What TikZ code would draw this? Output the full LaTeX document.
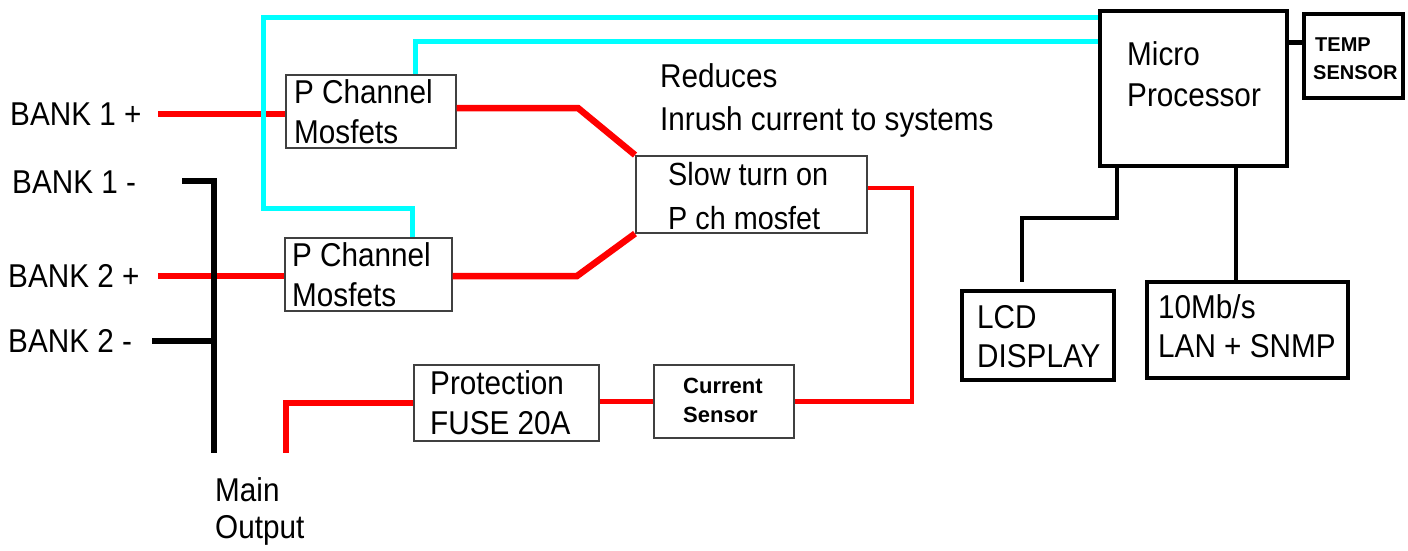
\documentclass[tikz,border=0pt]{standalone}
\usepackage{fontspec}
\setmainfont{Liberation Sans}[FakeStretch=0.9]
\newfontfamily\boldf{Liberation Sans Bold}
\definecolor{wirecyan}{RGB}{0,255,255}
\definecolor{wirered}{RGB}{255,0,0}
\tikzset{
  txt/.style={inner sep=0pt, anchor=base west, font=\fontsize{33}{33}\selectfont},
  slowtxt/.style={inner sep=0pt, anchor=base west, font=\fontsize{32}{32}\selectfont},
  btxt/.style={inner sep=0pt, anchor=base west, font=\boldf\fontsize{22}{22}\selectfont},
  stxt/.style={inner sep=0pt, anchor=base west, font=\boldf\fontsize{20}{20}\selectfont},
  thinbox/.style={draw=black!75, line width=1.6pt, inner sep=0pt, anchor=north west},
  thickbox/.style={draw=black, line width=4pt, inner sep=0pt, anchor=north west},
  redw/.style={draw=wirered, line width=6.5pt, line join=miter},
  redn/.style={draw=wirered, line width=4.5pt, line join=miter},
  cyw/.style={draw=wirecyan, line width=5pt, line join=miter},
  blkw/.style={draw=black, line width=6pt, line join=miter},
  blkn/.style={draw=black, line width=4.5pt, line join=miter},
}
\begin{document}
\begin{tikzpicture}[x=1pt, y=-1pt]
\useasboundingbox[fill=white] (0,0) rectangle (1408,550);

% boxes
\node[thinbox, minimum width=170pt, minimum height=73pt] (pch1) at (285,74) {};
\node[thinbox, minimum width=167pt, minimum height=73pt] (pch2) at (284,237) {};
\node[thinbox, minimum width=231pt, minimum height=77pt] (slow) at (635,155) {};
\node[thinbox, minimum width=185pt, minimum height=76pt] (prot) at (413,364) {};
\node[thinbox, minimum width=140pt, minimum height=73pt] (cur) at (653,364) {};
\node[thickbox, minimum width=187pt, minimum height=155pt] (micro) at (1098,9) {};
\node[thickbox, minimum width=99pt, minimum height=84pt] (temp) at (1302,12) {};
\node[thickbox, minimum width=152pt, minimum height=89pt] (lcd) at (960,289) {};
\node[thickbox, minimum width=201pt, minimum height=96pt] (lan) at (1145,280) {};

% texts
\node[txt] (b1p) at (10,125) {BANK 1 +};
\node[txt] (b1m) at (12,193) {BANK 1 -};
\node[txt] (b2p) at (8,287) {BANK 2 +};
\node[txt] (b2m) at (8,352) {BANK 2 -};
\node[txt] (pch1a) at (294,103) {P Channel};
\node[txt] (pch1b) at (294,143) {Mosfets};
\node[txt] (pch2a) at (292,266) {P Channel};
\node[txt] (pch2b) at (292,306) {Mosfets};
\node[txt] (red1) at (660,87) {Reduces};
\node[txt] (red2) at (660,130) {Inrush current to systems};
\node[slowtxt] (slowa) at (668,185) {Slow turn on};
\node[slowtxt] (slowb) at (668,229) {P ch mosfet};
\node[txt] (microa) at (1127,65) {Micro};
\node[txt] (microb) at (1127,106) {Processor};
\node[stxt] (tempa) at (1315,51) {TEMP};
\node[stxt] (tempb) at (1313,79) {SENSOR};
\node[txt] (lcda) at (977,328) {LCD};
\node[txt] (lcdb) at (977,367) {DISPLAY};
\node[txt] (lana) at (1158,318) {10Mb/s};
\node[txt] (lanb) at (1158,357) {LAN + SNMP};
\node[txt] (prota) at (430,394) {Protection};
\node[txt] (protb) at (430,434) {FUSE 20A};
\node[btxt] (cura) at (683,393) {Current};
\node[btxt] (curb) at (683,422) {Sensor};
\node[txt] (maina) at (215,501) {Main};
\node[txt] (mainb) at (215,538) {Output};

% coordinates for free ends and bends
\coordinate (b1pend) at (158,114);
\coordinate (b2pend) at (158,276);
\coordinate (k1) at (578,108);
\coordinate (k2) at (577,276);
\coordinate (k3) at (912,188);
\coordinate (mo) at (286,453);
\coordinate (b1mend) at (182,181);
\coordinate (b2mend) at (152,341);
\coordinate (busbot) at (214,453);
\coordinate (mb1) at (1117,218);
\coordinate (lcdtop) at (1022,282);
\coordinate (mb2) at (1236,0);
\coordinate (tc) at (1290,42);
\coordinate (c1) at (263,17);
\coordinate (c2) at (412,208);
\coordinate (c3) at (415,41);

% red power lines
\draw[redw] (b1pend) -- (b1pend -| pch1.west);
\draw[redw] (b2pend) -- (b2pend -| pch2.west);
\draw[redw] (k1 -| pch1.east) -- (k1) -- (slow.north west);
\draw[redw] (k2 -| pch2.east) -- (k2) -- (slow.south west);
\draw[redn] (k3 -| slow.east) -- (k3) |- (cur.east);
\draw[redn] (cur.west -| prot.east) -- (cur.west);
\draw[redn, line width=5.5pt] (prot.west) -| (mo);

% black negative bus
\draw[blkw] (b1mend) -| (busbot);
\draw[blkw] (b2mend) -- (b2mend -| busbot);

% micro connections
\draw[blkn] (mb1 |- micro.south) -- (mb1) -| (lcdtop);
\draw[blkn] (mb2 |- micro.south) -- (mb2 |- lan.north);
\draw[blkn, line width=5pt] (tc -| micro.east) -- (tc -| temp.west);

% cyan control lines
\draw[cyw] (c1 -| micro.west) -- (c1) |- (c2) -- (c2 |- pch2.north);
\draw[cyw] (c3 -| micro.west) -- (c3) -- (c3 |- pch1.north);
\end{tikzpicture}
\end{document}
